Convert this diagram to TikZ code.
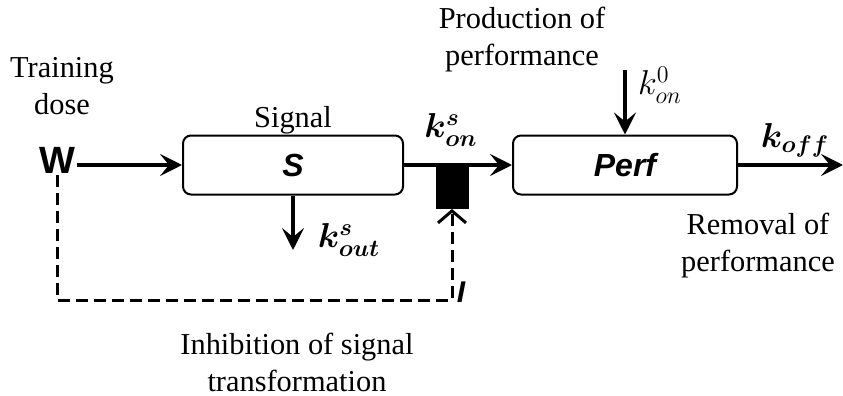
\documentclass[tikz,border=0pt]{standalone}
\usepackage{amsmath,amssymb,bm}
\usepackage{fontspec}
\setmainfont{Liberation Serif}
\setsansfont{Liberation Sans}
\usepackage{tikz}
\usetikzlibrary{positioning,calc}
\usetikzlibrary{arrows.meta}
\tikzset{
  block/.style={draw=black,line width=1pt,rounded corners=4pt,minimum width=110pt,
    minimum height=29.5pt,inner sep=0pt,font=\fontsize{16}{18}\sffamily\bfseries\itshape},
  flow/.style={draw=black,line width=1.6pt,-{Stealth[length=11pt,width=11pt,inset=4.5pt]}},
  inhib/.style={draw=black,line width=1.5pt,dash pattern=on 6pt off 3pt,-{Straight Barb[length=6pt,width=14pt]}},
  note/.style={align=center,font=\fontsize{15.2}{18.5}\selectfont,inner sep=0pt},
}
\tikzset{rate/.style={inner sep=0pt,font=\fontsize{17.5}{19}\selectfont}, gatebox/.style={fill=black,draw=black,minimum width=16pt,minimum height=22.5pt,inner sep=0pt}}

\begin{document}
\begin{tikzpicture}[x=0.5pt,y=-0.5pt]
\useasboundingbox (0,0) rectangle (843,396);
\node[note] (dose) at (62,86) {Training\\dose};
\node[inner sep=1pt,font=\fontsize{19}{20}\sffamily\bfseries] (W) at (57,160) {W};
\node[block] (S) at (293,165) {S};
\node[note] (signal) at (293,120) {Signal};
\node[block,minimum width=112pt] (Perf) at (625,165) {Perf};
\node[gatebox] (gate) at (452,186) {};
\node[rate] (kons) at (451,130) {$\bm{k^{s}_{on}}$};
\node[note] (prod) at (522,40) {Production of\\performance};
\node[rate] (kon0) at (660,85) {$k^{0}_{on}$};
\node[rate] (koff) at (795,140) {$\bm{k_{off}}$};
\node[rate] (kouts) at (349,240) {$\bm{k^{s}_{out}}$};
\node[note] (removal) at (758,246) {Removal of\\performance};
\node[note] (inhibtext) at (297,362) {Inhibition of signal\\transformation};
\node[inner sep=0pt,font=\fontsize{15}{16}\sffamily\bfseries\itshape] (I) at (461,292) {I};
\coordinate (outS) at (293,250);
\coordinate (inP) at (625,70);
\coordinate (outP) at (843,165);
\coordinate (low) at (452,300);
% main flow
\draw[flow] (W.east |- S.west) -- (S.west);
\draw[flow] (S.east) -- (Perf.west);
\draw[flow] (S.south) -- (outS);
\draw[flow] (inP) -- (Perf.north);
\draw[flow] (Perf.east) -- (outP);
% inhibition
\draw[inhib] (W.south) |- (low) -- (gate.south);
\end{tikzpicture}
\end{document}
